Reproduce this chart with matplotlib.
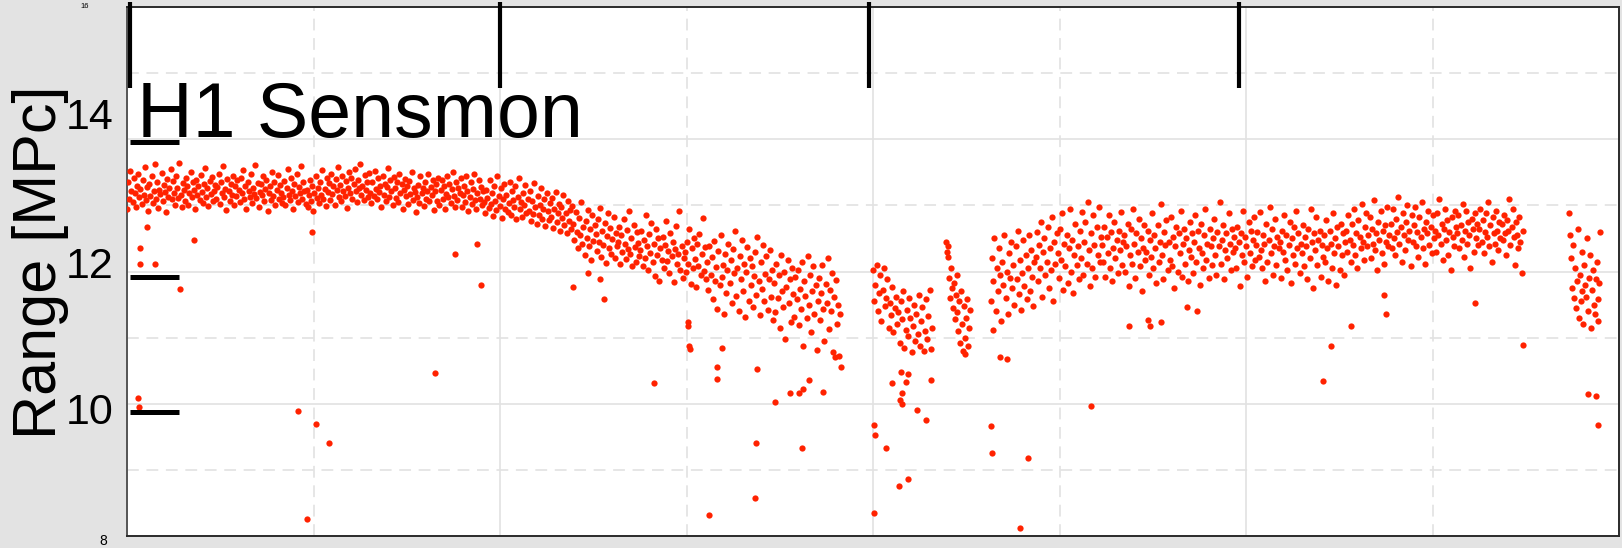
import numpy as np
import matplotlib
matplotlib.use("Agg")
import matplotlib.pyplot as plt

plt.rcParams["font.family"] = ["Liberation Sans", "DejaVu Sans"]
plt.rcParams["lines.scale_dashes"] = False

# ---- data: sensitivity range (MPc) vs. time of day (hours) ----
# continuous lock stretches: (start hour, end hour) and evenly sampled ranges
seg1_span = (0.0, 11.47)
seg1_range = [
    12.95, 13.35, 13.10, 13.52, 13.22, 13.05, 13.41, 13.18, 12.98, 13.30, 13.47, 13.12, 13.25, 13.02, 13.38, 13.15, 13.58, 13.08, 13.28, 12.92,
    13.33, 13.14, 13.45, 13.03, 13.21, 13.62, 13.10, 13.36, 12.96, 13.24, 13.17, 13.49, 13.06, 13.31, 13.20, 12.90, 13.40, 13.13, 13.27, 13.55,
    13.09, 13.37, 13.19, 13.00, 13.44, 13.26, 13.11, 13.64, 13.16, 12.97, 13.34, 13.23, 13.07, 13.42, 13.29, 13.01, 13.19, 13.50, 13.12, 13.35,
    13.23, 12.94, 13.39, 13.15, 13.30, 13.08, 13.46, 13.20, 13.04, 13.32, 13.57, 13.13, 13.26, 12.99, 13.37, 13.17, 13.43, 13.06, 13.22, 13.31,
    13.10, 13.28, 13.47, 13.02, 13.35, 13.18, 13.60, 13.12, 13.25, 12.93, 13.40, 13.21, 13.07, 13.33, 13.16, 13.45, 13.00, 13.29, 13.14, 13.38,
    13.24, 13.05, 13.41, 13.19, 13.53, 13.09, 13.30, 12.95, 13.36, 13.22, 13.13, 13.48, 13.03, 13.27, 13.17, 13.61, 13.11, 13.34, 12.98, 13.20,
    13.32, 13.15, 13.44, 13.06, 13.25, 13.39, 12.91, 13.18, 13.29, 13.08, 13.51, 13.14, 13.36, 13.01, 13.23, 13.46, 13.10, 13.31, 13.19, 13.04,
    13.12, 13.37, 13.00, 13.26, 13.55, 13.16, 13.08, 13.42, 13.21, 12.94, 13.33, 13.14, 13.48, 13.05, 13.28, 13.18, 13.59, 13.09, 13.35, 13.22,
    13.02, 13.24, 12.97, 13.15, 13.38, 13.07, 13.30, 12.92, 13.19, 13.45, 13.11, 13.27, 13.04, 13.36, 13.16, 13.53, 13.09, 13.25, 12.99, 13.41,
    13.20, 13.34, 13.08, 13.47, 13.17, 13.29, 13.01, 13.40, 13.23, 13.58, 13.13, 13.31, 13.06, 13.44, 13.22, 13.14, 13.37, 12.96, 13.26, 13.50,
    13.18, 13.42, 13.10, 13.33, 13.55, 13.21, 13.05, 13.39, 13.27, 13.62, 13.15, 13.30, 13.08, 13.46, 13.24, 13.35, 13.12, 13.49, 13.19, 13.03,
    13.36, 13.14, 13.52, 13.25, 13.09, 13.41, 13.20, 13.30, 12.98, 13.45, 13.16, 13.33, 13.06, 13.28, 13.57, 13.13, 13.38, 13.22, 13.01, 13.43,
    13.27, 13.11, 13.35, 13.05, 13.48, 13.19, 13.32, 12.95, 13.24, 13.40, 13.14, 13.29, 13.02, 13.37, 13.17, 13.51, 13.08, 13.26, 13.20, 12.90,
    13.13, 13.31, 13.04, 13.44, 13.18, 13.26, 12.99, 13.35, 13.10, 13.22, 13.47, 13.07, 13.28, 13.15, 13.39, 12.93, 13.21, 13.33, 13.06, 13.42,
    13.00, 13.23, 13.38, 13.09, 13.29, 12.94, 13.17, 13.45, 13.12, 13.32, 13.03, 13.25, 13.50, 13.14, 12.97, 13.36, 13.08, 13.27, 13.19, 13.41,
    12.98, 13.16, 13.30, 13.05, 13.44, 13.21, 12.92, 13.12, 13.35, 13.02, 13.25, 13.48, 13.08, 12.95, 13.19, 13.39, 13.10, 13.28, 13.00, 13.22,
    13.05, 12.88, 13.24, 13.11, 12.96, 13.38, 13.02, 13.19, 12.84, 13.30, 13.07, 12.93, 13.45, 13.14, 12.99, 13.27, 12.81, 13.09, 13.33, 12.95,
    13.16, 12.90, 13.03, 13.36, 12.86, 13.21, 13.08, 12.97, 13.29, 12.79, 13.12, 13.42, 12.94, 13.05, 12.83, 13.18, 13.00, 13.31, 12.89, 13.10,
    12.92, 13.22, 12.76, 13.06, 12.87, 13.34, 12.98, 12.72, 13.14, 12.85, 13.01, 13.26, 12.80, 12.95, 13.09, 12.69, 13.19, 12.91, 12.78, 13.04,
    12.83, 13.11, 12.66, 12.94, 13.20, 12.75, 12.89, 13.02, 12.62, 12.97, 12.81, 13.15, 12.70, 12.88, 12.58, 13.07, 12.77, 12.93, 12.64, 12.99,
    12.72, 12.48, 12.90, 12.60, 12.35, 12.81, 12.55, 13.05, 12.42, 12.68, 12.25, 12.77, 12.51, 12.93, 12.38, 12.64, 12.18, 12.85, 12.46, 12.70,
    12.57, 12.31, 12.79, 12.44, 12.96, 12.22, 12.62, 12.40, 12.74, 12.13, 12.53, 12.88, 12.36, 12.66, 12.27, 12.49, 12.83, 12.20, 12.58, 12.39,
    12.45, 12.68, 12.12, 12.55, 12.30, 12.80, 12.41, 12.19, 12.63, 12.34, 12.92, 12.26, 12.50, 12.08, 12.71, 12.37, 12.15, 12.59, 12.43, 12.24,
    12.33, 12.61, 12.09, 12.47, 12.21, 12.85, 12.38, 12.02, 12.56, 12.28, 12.73, 12.14, 12.42, 11.93, 12.65, 12.25, 12.50, 11.86, 12.36, 12.18,
    12.52, 12.06, 12.40, 12.77, 12.16, 12.31, 11.97, 12.58, 12.23, 12.45, 11.84, 12.34, 12.69, 12.11, 12.27, 12.92, 12.03, 12.39, 11.90, 12.20,
    12.29, 11.99, 12.44, 12.12, 12.64, 11.81, 12.35, 12.05, 12.51, 12.19, 11.76, 12.41, 12.08, 12.57, 11.95, 12.26, 12.81, 12.01, 12.37, 11.88,
    12.15, 11.72, 12.38, 11.95, 12.22, 11.58, 12.46, 11.86, 12.07, 11.44, 12.31, 11.79, 12.55, 11.91, 12.10, 11.36, 12.26, 11.67, 12.02, 12.41,
    11.83, 12.18, 11.52, 12.34, 11.97, 12.61, 11.63, 12.05, 11.40, 12.24, 11.88, 12.47, 11.70, 12.12, 11.31, 11.99, 12.37, 11.56, 12.20, 11.80,
    12.08, 11.47, 11.93, 12.29, 11.65, 12.52, 11.85, 11.34, 12.14, 11.74, 12.40, 11.55, 11.96, 12.23, 11.42, 11.89, 12.33, 11.61, 12.03, 11.27,
    11.82, 11.38, 12.11, 11.60, 11.95, 11.15, 12.25, 11.71, 11.46, 11.99, 10.98, 11.77, 12.18, 11.52, 11.88, 11.24, 12.06, 11.66, 11.31, 11.92,
    11.58, 12.02, 11.19, 11.74, 11.43, 12.15, 10.88, 11.85, 11.63, 11.29, 12.24, 11.50, 11.95, 11.08, 11.70, 12.08, 11.36, 11.79, 10.82, 11.55,
    11.90, 11.27, 11.67, 12.10, 11.44, 10.95, 11.81, 11.53, 12.20, 11.13, 11.72, 11.40, 11.98, 10.78, 11.62, 11.87, 11.21, 11.49, 10.72, 11.35,
]

seg2_span = (12.0, 12.95)
seg2_range = [
    12.02, 11.55, 11.80, 12.10, 11.40, 11.68, 11.95, 11.25, 11.72, 12.05, 11.48, 11.60, 11.88, 11.15, 11.52, 11.34, 11.76, 11.08, 11.45, 11.62,
    11.20, 11.38, 10.92, 11.55, 11.28, 11.70, 10.85, 11.12, 11.42, 11.02, 11.60, 11.30, 10.78, 11.18, 11.50, 10.95, 11.35, 11.05, 11.65, 10.88,
    11.25, 11.46, 10.80, 11.10, 11.58, 10.98, 11.32, 11.72, 10.83, 11.15,
]

seg3_span = (13.17, 13.56)
seg3_range = [
    12.45, 12.30, 12.38, 12.22, 11.90, 11.60, 12.05, 11.75, 11.45, 11.82, 11.28, 11.65, 11.95, 11.38,
    11.10, 11.55, 10.92, 11.70, 11.20, 10.80, 11.48, 11.00, 10.75, 11.30, 11.58, 10.88, 11.15, 11.42,
]

seg4_span = (13.9, 22.45)
seg4_range = [
    11.55, 12.20, 11.85, 12.50, 11.40, 12.05, 11.70, 12.35, 11.95, 11.25, 12.15, 11.80, 12.55, 11.60, 12.00, 11.35, 12.28, 11.90, 12.45, 11.75,
    12.10, 11.50, 12.38, 11.88, 12.62, 11.66, 12.18, 11.42, 11.97, 12.48, 11.78, 12.25, 11.58, 12.05, 12.55, 11.70, 12.32, 11.92, 11.48, 12.15,
    12.22, 12.60, 11.85, 12.40, 12.05, 12.75, 11.62, 12.30, 12.50, 11.95, 12.15, 12.68, 11.75, 12.36, 12.02, 12.82, 11.55, 12.45, 12.12, 12.58,
    12.28, 11.90, 12.65, 12.18, 12.88, 11.72, 12.42, 12.08, 12.55, 11.82, 12.35, 12.95, 12.00, 12.48, 11.68, 12.25, 12.72, 12.10, 12.38, 11.88,
    12.62, 12.20, 12.90, 11.95, 12.45, 12.75, 12.12, 13.05, 12.32, 11.78, 12.58, 12.05, 12.85, 12.40, 11.92, 12.68, 12.25, 12.98, 12.15, 12.52,
    12.40, 12.15, 12.68, 11.92, 12.52, 12.28, 12.85, 12.05, 12.60, 11.85, 12.35, 12.75, 12.20, 12.48, 11.98, 12.62, 12.32, 12.90, 12.10, 12.45,
    12.55, 12.00, 12.38, 12.72, 11.78, 12.25, 12.65, 12.12, 12.95, 12.42, 11.90, 12.58, 12.30, 12.80, 12.08, 12.50, 11.70, 12.36, 12.70, 12.18,
    12.30, 12.62, 11.95, 12.48, 12.22, 12.88, 12.05, 12.55, 12.35, 11.82, 12.70, 12.15, 12.45, 13.02, 12.25, 11.88, 12.60, 12.40, 12.78, 12.02,
    12.45, 12.18, 12.82, 12.08, 12.52, 11.75, 12.38, 12.68, 12.00, 12.58, 12.28, 12.92, 11.92, 12.42, 12.65, 12.12, 12.50, 11.85, 12.32, 12.75,
    12.22, 12.58, 11.98, 12.45, 12.85, 12.15, 12.62, 12.35, 11.80, 12.72, 12.28, 12.05, 12.55, 12.95, 12.18, 12.42, 11.90, 12.65, 12.38, 12.10,
    12.50, 12.80, 12.25, 11.95, 12.60, 12.38, 13.05, 12.12, 12.48, 12.70, 11.88, 12.32, 12.58, 12.20, 12.88, 12.42, 12.02, 12.65, 12.30, 12.52,
    12.35, 12.05, 12.68, 12.45, 11.78, 12.58, 12.25, 12.92, 12.15, 12.52, 12.38, 11.92, 12.75, 12.28, 12.62, 12.08, 12.48, 12.82, 12.18, 12.40,
    12.60, 12.22, 12.90, 12.32, 12.05, 12.55, 12.42, 11.85, 12.72, 12.15, 12.48, 12.98, 12.28, 12.65, 11.95, 12.38, 12.80, 12.10, 12.52, 12.35,
    12.45, 11.90, 12.62, 12.30, 12.85, 12.18, 12.55, 12.02, 12.40, 12.75, 11.82, 12.50, 12.25, 12.68, 12.12, 12.92, 12.35, 12.58, 11.98, 12.42,
    12.28, 12.70, 12.08, 12.52, 12.38, 11.88, 12.65, 12.20, 12.95, 12.45, 11.75, 12.58, 12.32, 12.82, 12.10, 12.48, 12.62, 11.92, 12.40, 12.22,
    12.55, 12.15, 12.78, 12.35, 11.85, 12.62, 12.42, 12.05, 12.88, 12.28, 12.50, 11.80, 12.68, 12.38, 12.02, 12.72, 12.25, 12.58, 11.95, 12.45,
    12.62, 12.30, 12.85, 12.48, 12.15, 12.72, 12.40, 12.95, 12.25, 12.58, 12.05, 12.78, 12.52, 12.35, 13.02, 12.45, 12.18, 12.68, 12.88, 12.38,
    12.55, 12.82, 12.20, 12.65, 12.42, 13.08, 12.32, 12.58, 12.02, 12.75, 12.48, 12.92, 12.28, 12.62, 12.12, 12.70, 12.45, 12.98, 12.38, 12.55,
    12.72, 12.35, 12.95, 12.50, 12.25, 12.80, 12.60, 13.12, 12.42, 12.68, 12.15, 12.88, 12.55, 12.32, 12.75, 13.00, 12.48, 12.62, 12.08, 12.85,
    12.45, 12.70, 12.98, 12.38, 12.60, 12.22, 12.82, 12.52, 13.05, 12.35, 12.65, 12.12, 12.75, 12.58, 12.92, 12.40, 12.68, 12.28, 12.85, 12.50,
    12.62, 12.30, 12.88, 12.55, 13.10, 12.42, 12.72, 12.18, 12.65, 12.95, 12.48, 12.78, 12.25, 12.60, 12.02, 12.82, 12.52, 12.38, 12.92, 12.68,
    12.58, 12.85, 12.35, 12.70, 12.48, 13.02, 12.22, 12.62, 12.92, 12.42, 12.75, 12.55, 12.05, 12.80, 12.65, 12.30, 12.88, 12.50, 12.72, 12.40,
    12.65, 12.95, 12.45, 12.78, 12.28, 12.60, 12.88, 12.52, 13.05, 12.38, 12.70, 12.15, 12.82, 12.58, 12.42, 12.92, 12.62, 12.32, 12.75, 12.50,
    12.72, 12.48, 12.85, 12.58, 12.25, 12.78, 12.62, 13.10, 12.40, 12.68, 12.95, 12.52, 12.10, 12.75, 12.55, 12.35, 12.82, 12.45, 11.98, 12.62,
]

seg5_span = (23.2, 23.7)
seg5_range = [
    12.88, 12.55, 12.20, 11.75, 12.40, 11.60, 12.05, 11.45, 11.85, 12.65, 11.30, 11.95, 11.55, 12.30, 11.70, 11.20, 12.10,
    11.80, 11.62, 12.50, 11.40, 11.90, 12.25, 11.15, 11.72, 12.02, 11.50, 11.35, 11.88, 12.15, 11.58, 11.25, 11.82, 12.60,
]

# isolated glitches below the main band (hour, range)
glitch_time = [
    0.32, 0.21, 0.21, 0.45, 1.08, 0.85, 0.18, 0.19, 2.75, 3.04, 3.25, 2.90, 2.98, 4.95, 5.69, 5.28, 5.63, 7.17, 7.67, 7.42, 7.61,
    8.48, 10.12, 10.10, 9.36, 10.86, 10.42, 10.66, 10.81, 10.87, 10.97, 11.20, 9.49, 9.49, 9.57, 10.13, 9.02, 9.02, 9.04, 9.06, 11.48, 11.39,
    12.02, 12.03, 12.02, 12.21, 12.42, 12.56, 12.30, 12.45, 12.56, 12.53, 12.47, 12.43, 12.47, 12.71, 12.85, 12.93,
    13.90, 13.91, 14.04, 14.15, 14.36, 14.49, 15.51, 13.93,
    16.12, 16.42, 16.45, 16.63, 19.37, 19.24, 19.69, 17.05, 17.21,
    20.25, 22.45, 21.68, 20.22,
    23.50, 23.63, 23.66,
]
glitch_range = [
    12.68, 12.36, 12.12, 12.11, 12.48, 11.74, 10.09, 9.95, 9.89, 9.70, 9.41, 8.26, 12.60, 10.47, 11.80, 12.26, 12.41, 11.77, 11.58, 11.97, 11.88,
    10.32, 9.41, 8.58, 8.32, 9.33, 10.02, 10.17, 10.17, 10.23, 10.36, 10.18, 10.55, 10.38, 10.85, 10.53, 11.23, 11.18, 10.88, 10.83, 10.56, 10.70,
    9.68, 9.52, 8.35, 9.33, 8.76, 8.86, 10.32, 10.48, 10.45, 10.33, 10.17, 10.06, 10.00, 9.91, 9.76, 10.36,
    9.67, 9.26, 10.70, 10.68, 8.12, 9.18, 9.97, 11.12,
    11.18, 11.27, 11.18, 11.23, 10.88, 10.35, 11.18, 11.47, 11.41,
    11.35, 10.89, 11.52, 11.65,
    10.14, 10.11, 9.68,
]

ytick_values = [16, 14, 12, 10, 8]
ytick_labels = ["16", "14", "12", "10", "8"]
top_tick_hours = [0, 6, 12, 18]
side_tick_values = [10, 12, 14]

# ---- figure ----
W, H = 1622, 548
fig = plt.figure(figsize=(W / 100, H / 100), dpi=100, facecolor="#e3e3e3")
L, R, T, B = 127, 1619, 7, 536
rect = [L / W, (H - B) / H, (R - L) / W, (B - T) / H]
ax = fig.add_axes(rect)
ax.set_facecolor("white")
ax.set_xlim(0, 24)
ax.set_ylim(8, 16)

ax.set_xticks([0, 6, 12, 18, 24])
ax.set_xticks([3, 9, 15, 21], minor=True)
ax.set_yticks([8, 10, 12, 14, 16])
ax.set_yticks([9, 11, 13, 15], minor=True)
ax.grid(True, which="major", color="#e2e2e2", lw=1.2, ls="-")
ax.grid(True, which="minor", color="#e2e2e2", lw=1.2, ls=(0, (8.5, 5.5)))
ax.set_axisbelow(True)
ax.tick_params(which="both", length=0, labelleft=False, labelbottom=False)
for side, s in ax.spines.items():
    s.set_color("#2a2a2a")
    s.set_linewidth(1.4)
ax.spines["left"].set_color("#555555")

red = "#ff2200"
dot = dict(ls="none", marker="o", ms=4.5, mew=0, color=red, zorder=3)
for span, vals in [(seg1_span, seg1_range), (seg2_span, seg2_range), (seg3_span, seg3_range),
                   (seg4_span, seg4_range), (seg5_span, seg5_range)]:
    t = np.linspace(span[0], span[1], len(vals))
    ax.plot(t, vals, **dot)
ax.plot(glitch_time, glitch_range, **dot)

# heavy tick marks on an overlay axis
ov = fig.add_axes(rect, frameon=False)
ov.set_xlim(-0.049, 24.168)
ov.set_ylim(8.163, 16.0)
ov.set_xticks([])
ov.set_yticks([])
ov.vlines(top_tick_hours, 0.847, 1.0095, transform=ov.get_xaxis_transform(),
          colors="black", lw=3.0, clip_on=False, capstyle="butt", zorder=5)
ov.hlines(side_tick_values, 3 / (R - L), 52 / (R - L), transform=ov.get_yaxis_transform(),
          colors="black", lw=3.6, clip_on=False, capstyle="butt", zorder=5)

# y tick labels
label_style = {
    "16": dict(dx=-38, dy=0, size=5.5, va="center"),
    "14": dict(dx=-14, dy=21.5, size=31, va="center"),
    "12": dict(dx=-14, dy=5, size=31, va="center"),
    "10": dict(dx=-14, dy=-9, size=31, va="center"),
    "8": dict(dx=-20, dy=2, size=10, va="top"),
}
for v, lab in zip(ytick_values, ytick_labels):
    st = label_style[lab]
    ax.annotate(lab, xy=(0, v), xycoords=ax.get_yaxis_transform(),
                xytext=(st["dx"], st["dy"]), textcoords="offset pixels",
                ha="right", va=st["va"], fontsize=st["size"], color="black",
                annotation_clip=False)

fig.text(41 / W, (H - 262) / H, "Range [MPc]", rotation=90, ha="center", va="center",
         fontsize=44, color="black")

ax.text(0.0067, (B - 137) / (B - T), "H1 Sensmon", transform=ax.transAxes,
        ha="left", va="baseline", fontsize=55.5, color="black", zorder=6)

fig.savefig("out.png", dpi=100, facecolor=fig.get_facecolor())
